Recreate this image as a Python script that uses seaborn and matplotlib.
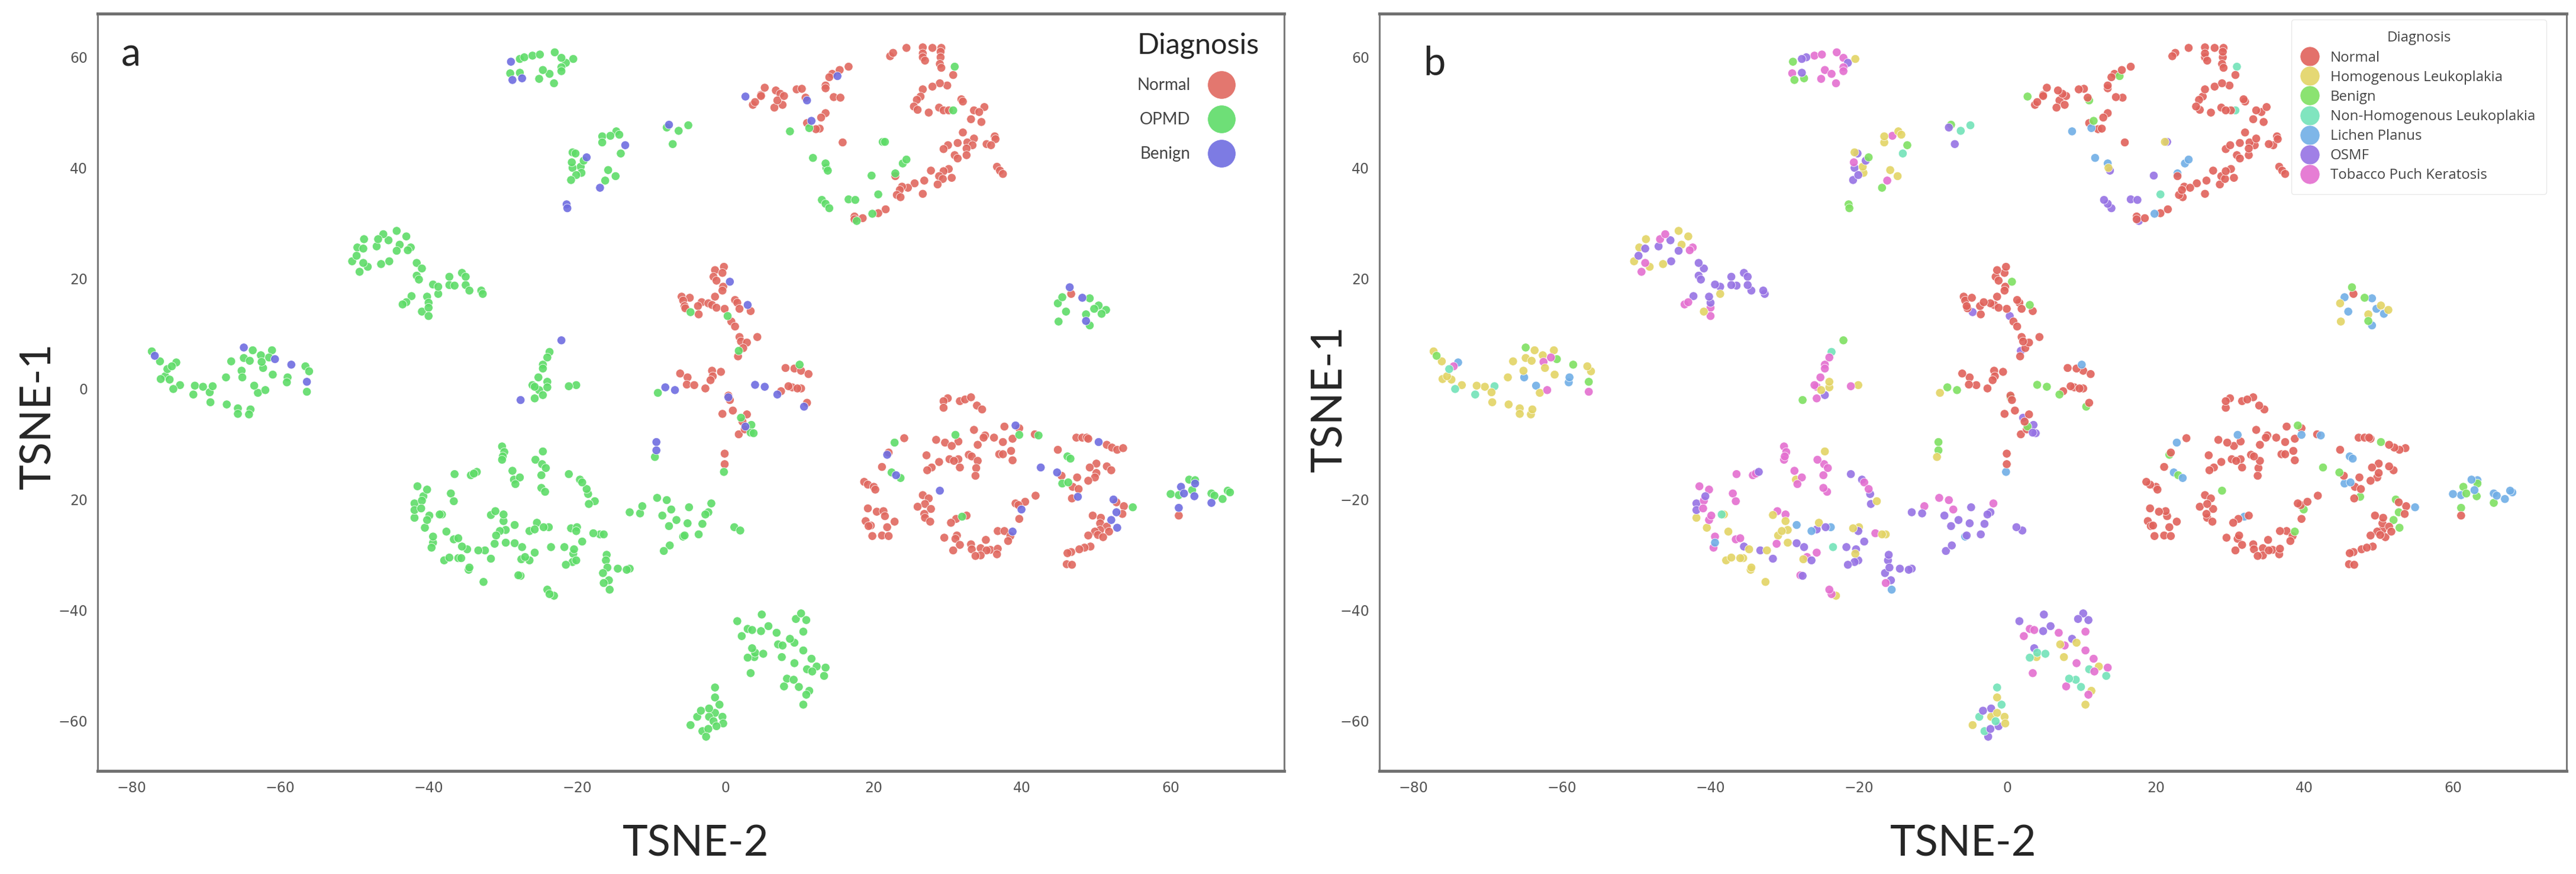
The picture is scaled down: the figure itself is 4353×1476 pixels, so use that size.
#%%
import pandas as pd
import matplotlib
matplotlib.use("Agg")
import matplotlib.pyplot as plt
import seaborn as sns

#%%
# (TSNE-2, TSNE-1), per diagnosis
normal = [
    (22.2,60.2),(22.6,60.8),(24.4,61.7),(26.6,61.8),(27.9,61.7),(29.1,61.7),(29.0,61.0),(26.6,60.7),(26.6,60.0),(26.9,59.4),
    (29.0,60.0),(28.9,58.8),(29.1,58.1),(30.7,56.8),(29.9,54.9),(28.9,55.3),(27.9,54.7),(26.6,54.2),(26.3,52.9),(25.8,52.3),
    (31.8,52.4),(32.0,52.0),(25.4,51.1),(25.9,50.5),(27.4,50.0),(28.8,50.9),(29.4,50.4),(30.1,50.4),(34.9,51.0),(33.5,50.4),
    (34.2,50.1),(33.1,48.8),(34.5,48.3),(32.0,46.4),(36.3,45.7),(36.4,45.2),(35.2,44.3),(35.8,44.1),(33.5,45.3),(32.6,44.6),
    (31.3,44.5),(33.3,44.1),(30.0,44.1),(29.4,43.4),(32.5,43.5),(32.5,42.3),(30.9,42.3),(31.3,41.7),(36.6,40.2),(37.0,39.5),
    (37.4,38.9),(30.1,39.8),(29.4,39.4),(27.7,39.5),(28.8,38.5),(30.5,38.2),(29.3,38.0),(28.6,37.0),(26.8,37.7),(25.5,37.2),
    (24.6,36.4),(23.8,36.6),(23.5,36.0),(23.1,35.1),(23.6,34.7),(26.6,35.3),(21.6,32.5),(20.6,31.8),(17.4,31.2),(17.4,30.7),
    (18.5,30.9),(3.7,51.4),(4.0,51.9),(4.8,53.2),(5.3,54.5),(4.8,53.0),(6.8,54.0),(7.4,53.4),(6.6,50.9),(7.7,51.4),
    (7.0,52.2),(7.9,53.0),(9.6,54.2),(10.3,54.3),(13.5,54.9),(13.5,54.4),(14.4,57.0),(14.0,56.4),(15.4,57.7),(16.6,58.3),
    (14.6,52.8),(15.5,52.7),(10.8,52.7),(13.5,49.9),(12.9,49.1),(11.0,48.1),(12.7,47.1),(12.2,47.0),(15.8,44.6),(22.9,38.5),
    (-0.2,22.1),(-1.4,21.5),(-0.4,21.0),(-1.6,20.3),(-1.2,19.6),(-0.3,18.5),(-0.4,17.8),(-5.9,16.7),(-4.8,16.5),(-5.7,16.0),
    (-1.4,16.7),(1.3,16.1),(1.6,15.6),(-3.2,15.7),(-2.3,15.5),(-3.7,15.0),(-1.8,15.2),(-5.5,15.0),(-5.4,14.6),(-1.2,14.7),
    (-0.1,14.5),(1.9,14.5),(3.4,14.1),(-3.6,13.5),(0.8,12.2),(1.3,11.3),(1.9,9.4),(4.3,9.4),(2.1,8.6),(2.9,8.4),
    (2.4,7.4),(1.7,5.9),(8.1,3.8),(9.3,3.7),(10.2,3.3),(11.2,2.7),(-6.1,2.8),(-5.1,2.1),(-1.8,3.3),(-0.6,3.1),
    (-1.7,2.3),(-2.0,1.6),(-5.2,0.8),(-4.2,0.7),(-2.7,0.1),(9.0,0.3),(10.2,0.1),(7.5,-0.4),(8.5,0.5),(9.7,0.1),
    (11.0,-2.5),(0.4,-1.2),(0.6,-2.0),(-0.4,-4.5),(1.0,-3.9),(2.9,-4.6),(2.3,-5.9),(1.8,-8.2),(2.6,-7.3),(-0.1,-11.7),(-0.1,-13.6),
    (29.97,-1.68),(29.4,-2.2),(29.4,-3.4),(31.6,-2.2),(32.3,-1.9),(33.1,-1.5),(33.9,-3.0),(34.6,-3.7),(37.6,-6.8),(39.6,-7.1),
    (33.5,-7.4),(35.0,-8.4),(34.8,-8.8),(36.2,-8.8),(38.7,-9.0),(37.4,-9.6),(28.4,-9.2),(29.6,-9.7),(31.4,-9.5),(30.5,-10.3),
    (34.0,-10.1),(38.5,-11.2),(36.9,-11.8),(37.4,-11.8),(38.7,-12.9),(32.8,-11.9),(33.2,-12.2),(34.0,-13.0),(31.4,-12.7),(30.2,-12.7),
    (30.8,-13.0),(28.8,-13.2),(27.1,-12.0),(27.8,-14.2),(27.2,-14.7),(31.6,-14.2),(33.8,-14.3),(33.7,-15.7),(24.1,-8.9),(22.0,-11.5),
    (21.1,-14.1),(18.7,-16.8),(19.2,-17.3),(20.0,-17.7),(20.2,-18.2),(19.2,-21.6),(20.4,-22.2),(21.3,-22.1),(21.5,-23.0),(22.8,-24.0),
    (18.9,-23.9),(19.6,-24.7),(19.3,-24.8),(21.8,-25.0),(19.8,-26.6),(21.1,-26.5),(22.0,-26.6),(26.6,-19.2),(27.4,-19.8),(26.9,-20.8),
    (25.9,-21.3),(27.7,-21.7),(26.8,-22.6),(26.9,-23.3),(27.6,-24.0),(32.5,-22.9),(31.1,-23.5),(30.4,-24.2),(41.8,-19.3),(40.4,-20.4),
    (39.1,-20.7),(39.5,-21.0),(39.6,-23.5),(36.7,-25.7),(37.6,-25.7),(38.4,-26.6),(38.1,-27.5),(35.1,-27.3),(29.5,-26.9),(31.2,-26.5),
    (31.0,-27.1),(31.6,-28.2),(30.7,-29.2),(33.1,-28.1),(33.2,-29.0),(34.4,-28.8),(35.7,-29.1),(35.2,-29.2),(36.7,-28.9),(36.6,-29.9),
    (34.4,-30.1),(33.7,-30.2),(41.7,-8.2),(47.3,-8.8),(48.1,-8.8),(48.7,-8.8),(48.9,-9.0),(51.4,-10.1),(52.1,-10.6),(52.8,-11.0),
    (53.6,-10.7),(44.8,-11.0),(50.0,-13.5),(49.1,-14.2),(51.4,-14.0),(52.0,-14.7),(50.0,-15.2),(45.3,-15.7),(47.4,-16.0),(49.8,-16.0),
    (48.9,-16.6),(46.8,-17.7),(47.6,-18.1),(46.7,-19.8),(52.7,-20.5),(53.7,-21.2),(53.5,-22.6),(49.5,-22.9),(50.6,-23.3),(50.5,-24.3),
    (51.4,-24.9),(51.7,-25.8),(50.5,-25.5),(49.8,-25.8),(48.9,-26.5),(50.2,-26.4),(50.9,-26.8),(49.2,-28.5),(48.4,-28.7),(47.7,-29.0),
    (46.6,-29.5),(46.1,-29.7),(46.0,-31.7),(46.7,-31.8),(61.1,-22.9),(46.6,17.2),
]
homogenous = [
    (-20.5,59.7),(-14.7,46.6),(-16.6,45.7),(-14.3,46.0),(-16.6,44.6),(-20.6,42.8),(-19.5,40.2),(-19.4,39.1),(-15.8,39.6),(-14.8,38.5),
    (21.2,44.7),(13.6,40.0),(-44.3,28.6),(-43.0,27.6),(-48.7,27.1),(-49.6,25.6),(-43.9,26.1),(-50.3,23.1),(-48.2,22.1),(-46.4,22.6),
    (-38.7,17.2),(-40.9,14.0),(-77.3,6.8),(-76.2,5.0),(-75.5,2.3),(-76.1,1.8),(-74.9,1.7),(-73.5,0.7),(-71.5,0.6),(-70.4,0.4),
    (-69.5,-0.6),(-69.4,-2.4),(-67.2,-2.8),(-65.7,-3.5),(-65.7,-4.5),(-64.0,-3.7),(-64.2,-4.6),(-63.7,7.0),(-66.6,5.0),(-64.9,5.6),
    (-64.1,5.1),(-62.6,6.1),(-61.1,7.0),(-62.3,3.8),(-65.2,3.3),(-67.3,2.1),(-63.0,-0.7),(-61.0,2.6),(-56.6,4.1),(-56.1,3.2),
    (-24.0,1.3),(-25.1,-0.2),(-24.0,0.3),(-20.1,0.7),(-9.1,-0.7),(-9.5,-12.3),(-24.6,-11.3),(-28.5,-16.4),(-17.6,-20.3),(-41.9,-23.3),
    (-38.2,-22.7),(-40.5,-25.1),(-37.6,-25.8),(-34.8,-29.0),(-32.4,-29.2),(-37.9,-31.0),(-37.2,-30.5),(-36.0,-30.6),(-35.6,-30.6),(-34.6,-32.7),
    (-34.5,-32.3),(-32.6,-34.9),(-31.6,-22.8),(-29.9,-23.9),(-29.6,-25.5),(-30.4,-25.7),(-30.9,-26.5),(-29.6,-27.8),(-20.5,-29.8),(-25.4,-24.2),
    (-20.8,-25.2),(-20.0,-25.0),(-16.9,-26.3),(-16.4,-26.3),(-27.5,-30.8),(-23.1,-37.4),(7.1,-46.2),(9.3,-45.9),(3.9,-48.5),(7.6,-48.5),
    (12.3,-50.2),(11.3,-54.6),(10.5,-57.1),(-1.4,-55.8),(-1.4,-58.6),(-2.2,-59.3),(-0.4,-59.3),(-0.3,-60.5),(-4.7,-60.8),(44.8,15.5),
    (50.3,15.1),(51.3,14.3),(48.6,13.5),(44.9,12.2),
]
benign = [
    (-28.9,59.2),(-27.4,56.2),(-28.7,55.9),(-13.5,44.1),(-18.7,41.9),(-16.9,36.4),(-21.4,33.4),(-21.3,32.7),(-7.6,47.8),(2.7,52.9),
    (15.1,56.6),(11.0,52.2),(11.6,48.5),(-76.9,6.0),(-64.9,7.5),(-60.7,5.4),(-58.5,4.4),(-56.4,1.3),(-22.1,8.8),(-27.6,-2.0),
    (0.6,19.4),(3.0,15.2),(-8.1,0.3),(-6.8,-0.2),(4.0,0.75),(5.3,0.4),(7.0,-1.0),(10.6,-3.2),(2.7,-6.8),(0.4,-1.5),
    (-9.3,-9.6),(-9.3,-11.1),(39.1,-6.6),(21.8,-11.9),(23.0,-15.6),(28.9,-18.4),(39.9,-21.8),(38.7,-25.8),(50.3,-9.6),(42.5,-14.2),
    (44.7,-15.1),(47.5,-19.5),(52.3,-20.0),(52.7,-22.3),(52.0,-23.7),(52.8,-25.1),(63.3,-17.1),(61.4,-17.7),(61.8,-18.9),(63.2,-19.4),
    (65.5,-20.6),(61.1,-21.5),(46.4,18.4),(48.1,16.5),(48.6,12.3),
]
non_homogenous = [
    (30.9,58.3),(30.7,50.4),(-14.1,42.6),(-6.3,46.7),(-5.0,47.7),(20.6,35.2),(-75.2,3.6),(-74.4,0.0),(-69.1,0.5),(-71.7,-1.0),
    (-23.7,6.7),(-38.5,-22.7),(-23.5,-28.6),(3.0,-48.6),(4.0,-47.7),(5.1,-47.9),(11.0,-50.7),(13.3,-51.9),(8.3,-52.4),(9.2,-52.6),
    (9.9,-53.9),(-1.4,-54.0),(-0.8,-57.1),(-3.8,-59.3),(-1.6,-60.1),(-3.1,-61.9),
]
lichen_planus = [
    (19.8,31.7),(11.3,47.2),(8.7,46.6),(11.8,41.8),(13.5,40.8),(22.9,39.0),(23.9,40.8),(24.4,41.5),(-74.0,4.8),(-65.1,2.1),
    (-63.5,0.6),(-59.0,2.1),(-59.1,1.2),(10.0,4.4),(39.6,-8.3),(31.0,-8.3),(22.8,-9.7),(22.4,-15.1),(23.6,-16.1),(31.9,-23.1),
    (42.2,-8.4),(46.1,-12.2),(46.5,-12.6),(45.4,-17.1),(46.2,-16.9),(54.9,-21.4),(62.5,-16.4),(63.3,-16.5),(62.9,-18.3),(60.0,-19.0),
    (61.1,-19.2),(65.5,-18.9),(65.9,-19.3),(67.0,-19.9),(67.7,-18.4),(68.0,-18.7),(-0.2,-15.0),(-39.4,-27.8),(-28.4,-24.6),(-26.4,-25.7),(-23.8,-25.0),(-15.6,-36.3),(-5.7,-26.7),
    (45.4,16.6),(49.1,16.4),(49.7,14.5),(50.7,13.6),(45.9,14.0),(49.1,11.5),
]
osmf = [
    (-27.7,59.7),(-27.1,60.0),(-21.5,59.0),(-27.7,57.2),(-20.2,42.6),(-19.1,41.3),(-20.6,40.0),(-20.1,38.7),(-20.8,37.8),(-7.9,47.3),
    (-7.1,44.3),(17.7,30.4),(21.5,44.7),(13.8,39.5),(19.7,38.6),(13.0,34.2),(13.5,33.5),(14.0,32.7),(16.6,34.3),(17.5,34.2),
    (-45.4,26.9),(-48.8,25.4),(-47.0,25.8),(-44.3,25.0),(-49.7,24.1),(-45.3,23.1),(-41.6,22.8),(-40.9,21.8),(-41.6,20.5),(-41.3,19.8),
    (-39.4,18.9),(-38.7,18.5),(-37.2,20.3),(-35.5,21.0),(-35.0,20.3),(-37.2,18.8),(-36.5,18.7),(-35.0,18.8),(-34.5,17.8),(-32.9,17.8),
    (-32.7,17.2),(-40.2,16.7),(-42.3,16.8),(-40.0,15.6),(-24.6,-1.1),(1.8,6.9),(-4.7,13.9),(0.3,13.2),(2.1,-5.2),(3.5,-6.5),
    (3.4,-7.9),(3.8,-8.0),(-33.5,-15.0),(-21.1,-15.4),(-19.6,-16.4),(-18.5,-19.0),(-18.4,-20.8),(-40.7,-19.4),(-41.9,-20.7),(-41.9,-21.9),
    (-35.5,-28.5),(-33.3,-29.2),(-31.6,-30.7),(-28.4,-27.9),(-27.4,-28.6),(-21.7,-28.6),(-20.4,-29.0),(-19.3,-27.6),(-25.7,-25.4),(-24.5,-25.0),
    (-20.1,-25.7),(-26.4,-31.0),(-27.6,-33.8),(-20.6,-31.3),(-21.5,-31.8),(-20.1,-31.0),(-16.0,-30.0),(-16.1,-31.0),(-15.9,-32.3),(-16.5,-33.3),
    (-14.5,-32.5),(-12.9,-32.5),(-13.3,-32.7),(-15.7,-34.6),(-12.9,-22.3),(-11.5,-22.5),(-8.5,-22.9),(-4.9,-21.4),(-2.3,-22.3),(-2.7,-22.7),
    (-6.6,-23.7),(-7.6,-24.8),(-5.1,-24.3),(-3.1,-24.4),(-5.5,-26.5),(-3.6,-26.3),(-7.5,-28.3),(-8.3,-29.3),(1.2,-25.0),(2.0,-25.6),
    (4.9,-40.8),(1.6,-42.0),(4.8,-43.8),(5.8,-42.9),(9.5,-41.6),(10.2,-40.6),(10.9,-41.8),(8.7,-45.2),(3.6,-46.9),(-2.2,-57.8),
    (-3.3,-58.2),(-1.2,-61.0),(-2.3,-61.5),(-2.6,-62.9),
]
tobacco = [
    (-26.0,60.3),(-25.0,60.5),(-23.0,60.9),(-22.1,59.9),(-22.1,58.2),(-22.1,57.5),(-23.7,57.0),(-24.6,57.7),(-29.0,57.1),(-25.1,56.1),
    (-23.1,55.3),(-15.5,45.8),(-20.7,41.0),(-16.2,37.7),(-46.1,28.0),(-46.8,27.1),(-42.4,25.6),(-42.8,25.1),(-48.8,22.8),(-49.3,21.2),
    (-43.0,15.7),(-43.5,15.3),(-40.0,14.7),(-40.0,13.2),(-74.6,4.1),(-61.5,5.7),(-62.5,4.9),(-62.0,-0.2),(-56.4,-0.5),(-24.0,5.7),
    (-24.6,4.4),(-24.6,3.7),(-25.2,2.1),(-26.0,0.7),(-25.7,0.4),(-25.7,-1.7),(-21.1,0.5),(-30.1,-10.4),(-29.8,-11.4),(-30.0,-12.2),
    (-30.1,-12.8),(-25.6,-12.8),(-24.7,-13.6),(-24.2,-14.3),(-24.8,-15.6),(-28.7,-14.8),(-27.7,-16.0),(-28.3,-17.2),(-36.5,-15.4),(-34.3,-15.6),
    (-33.9,-15.3),(-18.7,-18.1),(-19.3,-16.9),(-24.8,-17.9),(-24.3,-18.6),(-41.5,-17.6),(-40.2,-18.2),(-37.0,-18.9),(-36.6,-20.3),(-40.9,-20.2),
    (-41.0,-21.6),(-39.9,-22.9),(-40.2,-23.7),(-39.4,-26.7),(-39.6,-28.7),(-36.6,-27.2),(-36.0,-27.0),(-31.0,-22.1),(-29.9,-22.7),(-31.1,-28.0),
    (-25.7,-29.6),(-17.8,-26.1),(-27.0,-30.4),(-27.9,-33.7),(-16.4,-35.1),(-24.0,-36.3),(-23.7,-37.1),(-9.2,-19.7),(-7.9,-20.1),(-7.3,-21.8),
    (-11.2,-21.2),(-1.9,-20.7),(3.0,-43.4),(3.6,-43.6),(10.5,-43.9),(2.2,-44.7),(6.9,-44.1),(7.7,-46.4),(10.5,-47.3),(9.3,-49.6),
    (11.6,-48.8),(13.5,-50.4),(11.7,-51.1),(3.4,-51.4),(7.9,-53.8),(10.9,-55.3),
]

diagnoses = ["Normal", "Homogenous Leukoplakia", "Benign", "Non-Homogenous Leukoplakia",
             "Lichen Planus", "OSMF", "Tobacco Puch Keratosis"]
groups = ["Normal", "OPMD", "Benign"]
diag_colors = ["#e0625b", "#e3d465", "#7fe062", "#72e3b8", "#70aee6", "#9672e4", "#e46fd0"]
group_colors = ["#e0685f", "#5edc68", "#6f6de0"]

xticks = [-80, -60, -40, -20, 0, 20, 40, 60]
yticks = [-60, -40, -20, 0, 20, 40, 60]
xticklabels = ["\u221280", "\u221260", "\u221240", "\u221220", "0", "20", "40", "60"]
yticklabels_a = ["\u221260", "\u221240", "20", "0", "20", "40", "60"]
yticklabels_b = ["\u221260", "\u221240", "\u221220", "", "20", "40", "60"]

#%%
rows = []
for name, pts in zip(diagnoses, [normal, homogenous, benign, non_homogenous, lichen_planus, osmf, tobacco]):
    for p in pts:
        rows.append((p[0], p[1], name))
df = pd.DataFrame(rows, columns=["tsne2", "tsne1", "Diagnosis"])
df["Group"] = df.Diagnosis.map(lambda d: d if d in ("Normal", "Benign") else "OPMD")
# benign dots sit on top in panel a
df_a = df.sort_values("Group", key=lambda c: c.map({"Normal": 0, "OPMD": 1, "Benign": 2}), kind="stable")
df_b = df.sample(frac=1, random_state=3)

#%%
W, H = 4353, 1476
sns.set_style("white")
plt.rcParams["font.family"] = ["Lato", "DejaVu Sans"]
fig = plt.figure(figsize=(W / 100, H / 100), dpi=100)


def panel(x0, x1, y0=23, y1=1302):
    return fig.add_axes([x0 / W, 1 - y1 / H, (x1 - x0) / W, (y1 - y0) / H])


ax_a = panel(165, 2170)
ax_b = panel(2331, 4337)

sns.scatterplot(data=df_a, x="tsne2", y="tsne1", hue="Group", hue_order=groups, palette=group_colors,
                s=108, alpha=0.9, edgecolor="white", linewidth=0.6, ax=ax_a)
sns.scatterplot(data=df_b, x="tsne2", y="tsne1", hue="Diagnosis", hue_order=diagnoses, palette=diag_colors,
                s=108, alpha=0.9, edgecolor="white", linewidth=0.6, ax=ax_b)

for ax, ylab in [(ax_a, yticklabels_a), (ax_b, yticklabels_b)]:
    ax.set_xlim(-84.6, 75.3)
    ax.set_ylim(-69.1, 67.9)
    ax.set_xticks(xticks, xticklabels, fontfamily="DejaVu Sans")
    ax.set_yticks(yticks, ylab, fontfamily="DejaVu Sans")
    ax.tick_params(length=7, width=2, color="#666666", labelcolor="#555555", labelsize=17, pad=5)
    for side in ["left", "right"]:
        ax.spines[side].set_color("#7a7a7a")
        ax.spines[side].set_linewidth(2.2)
    for side in ["top", "bottom"]:
        ax.spines[side].set_color("#707070")
        ax.spines[side].set_linewidth(3.6)
    ax.set_xlabel("TSNE-2", fontsize=52, va="center")
    ax.set_ylabel("TSNE-1", fontsize=52, va="center")

ax_a.xaxis.set_label_coords(0.504, -0.096)
ax_a.yaxis.set_label_coords(-0.05, 0.469)
ax_b.xaxis.set_label_coords(0.492, -0.096)
ax_b.yaxis.set_label_coords(-0.042, 0.492)

ax_a.text(0.020, 0.931, "a", transform=ax_a.transAxes, fontsize=48)
ax_b.text(0.037, 0.919, "b", transform=ax_b.transAxes, fontsize=48)

#%%
sns.move_legend(ax_a, "upper left", bbox_to_anchor=(0.876, 0.975), title="Diagnosis", frameon=False,
                markerfirst=False, markerscale=3.3, fontsize=20, title_fontsize=35, alignment="left",
                labelspacing=1.15, handletextpad=0.9, borderpad=0, borderaxespad=0)
sns.move_legend(ax_b, "upper left", bbox_to_anchor=(0.768, 0.992), title="Diagnosis", frameon=True,
                markerscale=2.3, fontsize=17.3, title_fontsize=17.3, labelspacing=0.38, handlelength=1.0,
                handletextpad=0.95, borderpad=0.8, borderaxespad=0, fancybox=True, framealpha=1, edgecolor="#e8e8e8")
for leg in [ax_a.get_legend(), ax_b.get_legend()]:
    for t in leg.get_texts():
        t.set_color("#444444")
ax_b.get_legend().get_title().set_color("#444444")
for t in ax_b.get_legend().get_texts() + [ax_b.get_legend().get_title()]:
    t.set_fontfamily(["Open Sans", "DejaVu Sans"])

fig.savefig("out.png", dpi=100)
